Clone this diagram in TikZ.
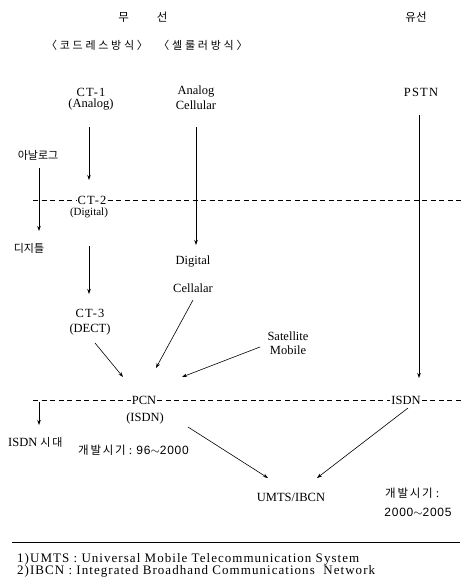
\documentclass[tikz,border=0pt]{standalone}
\usepackage{fontspec}
\setmainfont{Liberation Serif}
\newfontfamily\kr{Noto Sans CJK KR}
\newfontfamily\krs{Noto Sans CJK KR}[LetterSpace=25]
\newfontfamily\krw{Noto Sans CJK KR}[LetterSpace=15]
\newfontfamily\fnf{Liberation Serif}[LetterSpace=8]
\newfontfamily\ctf{Liberation Serif}[LetterSpace=10]
\newfontfamily\numf{Liberation Sans}[LetterSpace=6]
\usetikzlibrary{arrows.meta}
\begin{document}
\begin{tikzpicture}[x=1pt,y=-1pt,
  lbl/.style={inner sep=1pt,font=\fontsize{12.5}{14}\selectfont},
  ctl/.style={inner sep=1pt,font=\ctf\fontsize{12.5}{14}\selectfont},
  krl/.style={inner sep=1pt,font=\kr\fontsize{11}{12}\selectfont},
  arr/.style={-{Stealth[length=5pt,width=3.5pt]},line width=0.6pt},
  dsh/.style={dash pattern=on 5pt off 3.5pt,line width=0.7pt}]
\useasboundingbox (0,0) rectangle (461,578);
% headings
\node[krl,font=\kr\fontsize{11.5}{12}\selectfont] (wireless) at (143,17) {무\hspace{28pt}선};
\node[krl,font=\kr\fontsize{11.5}{12}\selectfont] (wired) at (416,17) {유선};
\node[krl,font=\krs\fontsize{11}{12}\selectfont] (cordless) at (97,45) {〈코드레스방식〉};
\node[krl,font=\krs\fontsize{11}{12}\selectfont] (cellular) at (203,45) {〈셀룰러방식〉};
% top row
\node[ctl] (ct1) at (91,92) {CT-1};
\node[lbl] (ct1a) at (91,105) {(Analog)};
\node[lbl] (ac1) at (196,92) {Analog};
\node[lbl] (ac2) at (196,105) {Cellular};
\node[ctl] (pstn) at (421,92) {PSTN};
% analog / digital side
\node[krl] (analog) at (38,155) {아날로그};
\node[krl] (digital) at (29,248) {디지틀};
\coordinate (a1) at (39,168);
\coordinate (a2) at (39,231);
\draw[arr] (a1) -- (a2);
% CT-2 row
\node[ctl] (ct2) at (92,200) {CT-2};
\node[lbl,font=\fontsize{11}{12}\selectfont] (ct2d) at (89,213) {(Digital)};
\coordinate (l2) at (33,200);
\coordinate (r2) at (461,200);
\draw[dsh] (l2) -- (ct2.west);
\draw[dsh] (ct2.east) -- (r2);
% vertical arrows
\coordinate (c1s) at (89,127);
\coordinate (c1e) at (89,180);
\draw[arr] (c1s) -- (c1e);
\coordinate (acs) at (196,127);
\coordinate (ace) at (196,245);
\draw[arr] (acs) -- (ace);
\coordinate (pss) at (419,115);
\coordinate (pse) at (419,378);
\draw[arr] (pss) -- (pse);
\coordinate (c2s) at (89,246);
\coordinate (c2e) at (89,294);
\draw[arr] (c2s) -- (c2e);
% digital cellalar, CT-3, satellite
\node[lbl] (dc1) at (193,262) {Digital};
\node[lbl] (dc2) at (193,288) {Cellalar};
\node[ctl] (ct3) at (90,313) {CT-3};
\node[lbl] (ct3d) at (90,329) {(DECT)};
\node[lbl] (sat1) at (288,336) {Satellite};
\node[lbl] (sat2) at (288,350) {Mobile};
% PCN row
\node[lbl] (pcn) at (144,400) {PCN};
\node[lbl] (isdn) at (406,400) {ISDN};
\node[lbl] (pcni) at (145,418) {(ISDN)};
\coordinate (l4) at (33,400);
\coordinate (r4) at (461,400);
\draw[dsh] (l4) -- (pcn.west);
\draw[dsh] (pcn.east) -- (isdn.west);
\draw[dsh] (isdn.east) -- (r4);
\coordinate (p1s) at (95,343);
\coordinate (p1e) at (123,377);
\draw[arr] (p1s) -- (p1e);
\coordinate (p2s) at (193,300);
\coordinate (p2e) at (156,368);
\draw[arr] (p2s) -- (p2e);
\coordinate (p3s) at (260,347);
\coordinate (p3e) at (182,377);
\draw[arr] (p3s) -- (p3e);
\coordinate (e1s) at (39,402);
\coordinate (e1e) at (39,425);
\draw[arr] (e1s) -- (e1e);
\node[lbl,anchor=west] (isdnera) at (7,442) {ISDN {\krw\fontsize{11}{12}\selectfont 시대}};
\node[lbl,anchor=west] (dev1) at (77,450) {{\krw\fontsize{11.5}{12}\selectfont 개발시기} : {\numf\fontsize{12}{14}\selectfont 96$\sim$2000}};
% UMTS
\node[lbl] (umts) at (291,497) {UMTS/IBCN};
\coordinate (u1s) at (188,427);
\coordinate (u1e) at (268,478);
\draw[arr] (u1s) -- (u1e);
\coordinate (u2s) at (408,408);
\coordinate (u2e) at (317,478);
\draw[arr] (u2s) -- (u2e);
\node[lbl,anchor=west] (dev2) at (384,493) {{\krw\fontsize{11.5}{12}\selectfont 개발시기} :};
\node[lbl] (dev2y) at (418,512) {\numf\fontsize{12}{14}\selectfont 2000$\sim$2005};
% footnotes
\coordinate (fl) at (12,542);
\coordinate (fr) at (460,542);
\draw[line width=0.7pt] (fl) -- (fr);
\node[lbl,anchor=west,font=\fnf\fontsize{13}{14}\selectfont] (fn1) at (16,559) {1)UMTS : Universal Mobile Telecommunication System};
\node[lbl,anchor=west,font=\fnf\fontsize{13}{14}\selectfont] (fn2) at (16,571) {2)IBCN : Integrated Broadhand Communications\ \ Network};
\end{tikzpicture}
\end{document}
